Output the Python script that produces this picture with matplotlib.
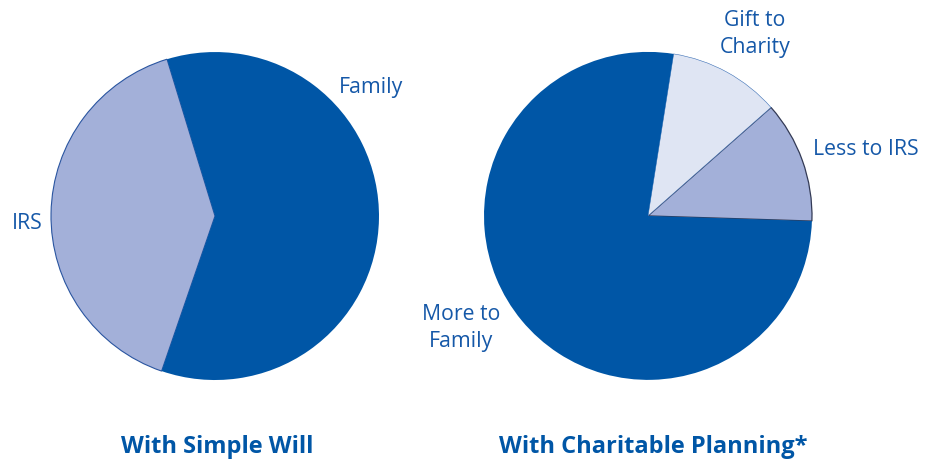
import matplotlib
matplotlib.use("Agg")
import matplotlib.pyplot as plt

# data
simple_labels = ["IRS", "Family"]
simple_values = [40, 60]
planned_labels = ["Less to IRS", "Gift to\nCharity", "More to\nFamily"]
planned_values = [12, 11, 77]

dark = "#0056a6"
mid = "#a3b0d9"
light = "#dfe5f3"
text_col = "#1558a8"

plt.rcParams["font.family"] = ["Open Sans", "DejaVu Sans"]

fig = plt.figure(figsize=(9.36, 4.6), dpi=100)
ax1 = fig.add_axes([0.0545, 0.1717, 0.3504, 0.713])
ax2 = fig.add_axes([0.5171, 0.172, 0.3504, 0.713])

w1, _ = ax1.pie(simple_values, colors=[mid, dark], startangle=107,
                wedgeprops=dict(linewidth=0))
w1[0].set_edgecolor("#2a55a0")
w1[0].set_linewidth(0.8)

w2, _ = ax2.pie(planned_values, colors=[mid, light, dark], startangle=-1.8,
                wedgeprops=dict(linewidth=0))
w2[0].set_edgecolor("#333a55")
w2[0].set_linewidth(0.9)
w2[1].set_edgecolor("#3b6fb5")
w2[1].set_linewidth(0.4)

for ax in (ax1, ax2):
    ax.set_xlim(-1, 1)
    ax.set_ylim(-1, 1)
    ax.set_aspect("auto")

lab = dict(color=text_col, fontsize=15.3, ha="center", va="center",
           clip_on=False, linespacing=1.4)
ax1.text(0.95, 0.787, simple_labels[1], **lab)
ax1.text(-1.146, -0.037, simple_labels[0], **lab)
ax2.text(1.33, 0.41, planned_labels[0], **lab)
ax2.text(0.652, 1.115, planned_labels[1], **lab)
ax2.text(-1.14, -0.677, planned_labels[2], **lab)

fig.text(217 / 936, 1 - 447 / 460, "With Simple Will", color=dark,
         fontsize=17, fontweight="bold", ha="center", va="center")
fig.text(653 / 936, 1 - 447 / 460, "With Charitable Planning*", color=dark,
         fontsize=17, fontweight="bold", ha="center", va="center")

fig.savefig("out.png", dpi=100)
